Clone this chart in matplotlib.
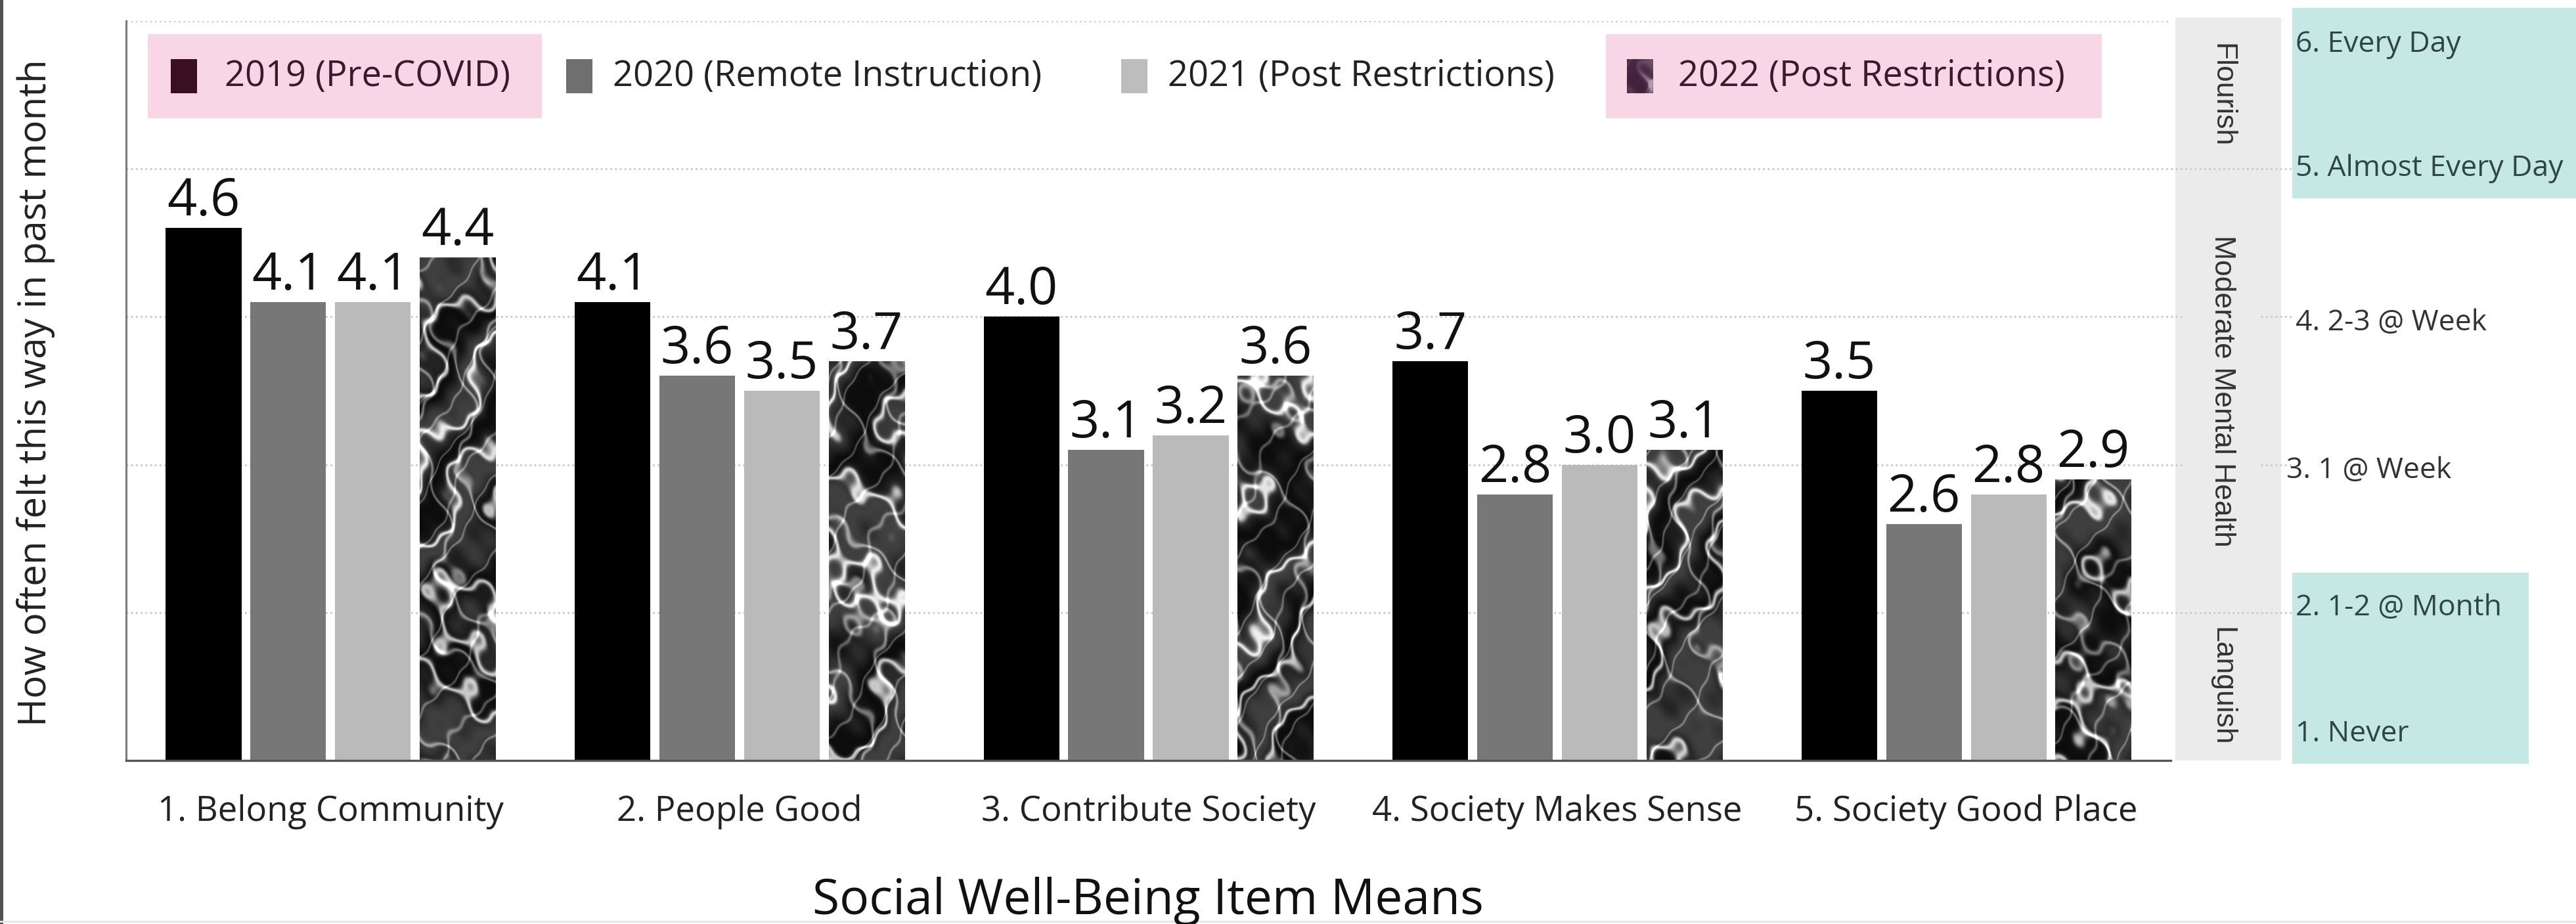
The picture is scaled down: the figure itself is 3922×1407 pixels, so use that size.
import numpy as np
import matplotlib
matplotlib.use("Agg")
import matplotlib.pyplot as plt
from matplotlib.patches import Rectangle
from matplotlib.colors import LinearSegmentedColormap

plt.rcParams["font.family"] = ["Open Sans", "DejaVu Sans"]

# ---- data -------------------------------------------------------------
items = [
    "1. Belong Community",
    "2. People Good",
    "3. Contribute Society",
    "4. Society Makes Sense",
    "5. Society Good Place",
]
years = [
    "2019 (Pre-COVID)",
    "2020 (Remote Instruction)",
    "2021 (Post Restrictions)",
    "2022 (Post Restrictions)",
]
means_2019 = [4.6, 4.1, 4.0, 3.7, 3.5]
means_2020 = [4.1, 3.6, 3.1, 2.8, 2.6]
means_2021 = [4.1, 3.5, 3.2, 3.0, 2.8]
means_2022 = [4.4, 3.7, 3.6, 3.1, 2.9]

scale_levels = [1, 2, 3, 4, 5, 6]
scale_labels = [
    "1. Never",
    "2. 1-2 @ Month",
    "3. 1 @ Week",
    "4. 2-3 @ Week",
    "5. Almost Every Day",
    "6. Every Day",
]
zone_names = ["Languish", "Moderate Mental Health", "Flourish"]
zone_bounds = [1, 2, 5, 6]

# ---- style ------------------------------------------------------------
W, H = 3922, 1407
BAR_COLORS = ["#000000", "#777777", "#bababa", None]
GRID = dict(color="#c9c9c9", linewidth=2.0, linestyle=(0, (1, 1.6)))
PINK = "#f9d6e6"
TEAL = "#c5e8e5"
BAND = "#ebebeb"


def fx(px):
    return px / W


def fy(py):
    return 1 - py / H


def marble(rows, cols, shift):
    # procedural marble look for the 2022 bars (texture only, not data)
    yy, xx = np.mgrid[0:rows, 0:cols].astype(float)
    u, v = xx / 75.0, yy / 75.0
    warp = (np.sin(1.1 * u + 0.6 * v + shift)
            + 0.55 * np.sin(2.3 * v - 1.7 * u + 2.1 * shift)
            + 0.3 * np.sin(4.7 * u + 3.9 * v + 0.7 * shift)
            + 0.15 * np.sin(9.3 * u - 8.1 * v + 1.3 * shift))
    vein_a = np.exp(-22 * np.sin(1.4 * u + 1.1 * v + 1.6 * warp) ** 2)
    vein_b = np.exp(-40 * np.sin(2.6 * u - 1.2 * v + 1.3 * warp + 1.0) ** 2)
    vein_c = np.exp(-70 * np.sin(4.1 * u + 2.7 * v + 0.9 * warp + 2.0) ** 2)
    mottle = 0.5 + 0.5 * np.sin(2.2 * u + 1.7 * v + 2.0 * warp)
    tex = 0.05 + 0.2 * mottle + 0.7 * vein_a + 0.4 * vein_b + 0.3 * vein_c
    return np.clip(tex, 0, 1)


fig = plt.figure(figsize=(W / 100, H / 100), dpi=100)
ax = fig.add_axes([fx(192), fy(1158), fx(3305) - fx(192), fy(32) - fy(1158)])
side = fig.add_axes([fx(3305), fy(1158), 1 - fx(3305), fy(32) - fy(1158)], sharey=ax)

x = np.arange(len(items))
width = 0.185
step = 0.207
series = [means_2019, means_2020, means_2021, means_2022]

for i, vals in enumerate(series):
    pos = x + (i - 1.5) * step
    color = BAR_COLORS[i] if BAR_COLORS[i] else "#333333"
    bars = ax.bar(pos, vals, width=width, color=color, zorder=3)
    if BAR_COLORS[i] is None:
        for j, patch in enumerate(bars.patches):
            tex = marble(1130, 120, shift=1.7 * j + 0.4)
            im = ax.imshow(tex, cmap="gray", vmin=0, vmax=1, aspect="auto",
                           extent=(pos[j] - width / 2, pos[j] + width / 2, 1, 6),
                           zorder=4, interpolation="bilinear")
            im.set_clip_path(patch)
    for xp, v in zip(pos, vals):
        ax.annotate(f"{v:.1f}", (xp, v), xytext=(0, 0), textcoords="offset points",
                    ha="center", va="bottom", fontsize=57, color="#111111", zorder=5)

ax.set_xlim(-0.5, len(items) - 0.5)
ax.set_ylim(1, 6)
ax.set_yticks([])
for lvl in scale_levels[1:]:
    ax.axhline(lvl, zorder=1, **GRID)
ax.set_xticks(x)
ax.set_xticklabels(items, fontsize=38, color="#222222")
ax.tick_params(axis="x", length=0, pad=37)
for s in ["top", "right"]:
    ax.spines[s].set_visible(False)
ax.spines["left"].set_color("#7a7a7a")
ax.spines["left"].set_linewidth(2.2)
ax.spines["bottom"].set_color("#555555")
ax.spines["bottom"].set_linewidth(2.4)
ax.spines["bottom"].set_zorder(6)

# ---- right side: zones band and frequency labels ----------------------
side.set_xlim(0, W - 3305)
side.axis("off")
side.add_patch(Rectangle((7, zone_bounds[0]), 161, zone_bounds[-1] + 0.02 - zone_bounds[0],
                         facecolor=BAND, edgecolor="none", zorder=0, clip_on=False))
side.add_patch(Rectangle((185, 4.8), W - 3305 - 185, 1.29, facecolor=TEAL,
                         edgecolor="none", zorder=0, clip_on=False))
side.add_patch(Rectangle((185, 0.98), 360, 1.29, facecolor=TEAL,
                         edgecolor="none", zorder=0, clip_on=False))
for lvl in scale_levels[1:5]:
    side.hlines(lvl, 0, 185, zorder=1, **GRID)
for k, name in enumerate(zone_names):
    mid = (zone_bounds[k] + zone_bounds[k + 1]) / 2
    box = dict(boxstyle="square,pad=0.8", facecolor=BAND, edgecolor="none") if k == 1 else None
    side.text(78, mid, name, rotation=-90, ha="center", va="center", fontsize=32,
              color="#333333", family=["Liberation Sans", "DejaVu Sans"], bbox=box, zorder=2)

label_y = [1.18, 2.03, 2.96, 3.96, 5.0, 5.84]
label_x = [190, 190, 176, 190, 190, 190]
for lvl, lab, ly, lx in zip(scale_levels, scale_labels, label_y, label_x):
    teal = lvl in (1, 2, 5, 6)
    side.text(lx, ly, lab, ha="left", va="center", fontsize=32,
              color="#2e4646" if teal else "#333333", zorder=3)

# ---- legend -----------------------------------------------------------
leg_handle_x = [260, 862, 1707, 2477]
leg_text_x = [342, 933, 1778, 2555]
handle_colors = ["#3a1020", "#6f6f6f", "#bdbdbd", None]
fig.add_artist(Rectangle((fx(225), fy(180)), fx(825) - fx(225), fy(52) - fy(180),
                         transform=fig.transFigure, facecolor=PINK, edgecolor="none", zorder=1))
fig.add_artist(Rectangle((fx(2445), fy(180)), fx(3200) - fx(2445), fy(52) - fy(180),
                         transform=fig.transFigure, facecolor=PINK, edgecolor="none", zorder=1))
purple = LinearSegmentedColormap.from_list("purple_marble", ["#3a1a36", "#5c3d58", "#b29bb0"])
for k, label in enumerate(years):
    hx = leg_handle_x[k]
    if handle_colors[k]:
        fig.add_artist(Rectangle((fx(hx), fy(142)), 40 / W, 52 / H, transform=fig.transFigure,
                                 facecolor=handle_colors[k], edgecolor="none", zorder=2))
    else:
        hax = fig.add_axes([fx(hx), fy(142), 40 / W, 52 / H], zorder=3)
        hax.imshow(marble(52, 40, 0.3)[:, :] * 1.0, cmap=purple, vmin=0, vmax=1,
                   aspect="auto", extent=(0, 1, 0, 1))
        hax.axis("off")
    fig.text(fx(leg_text_x[k]), fy(116), label, fontsize=39, ha="left", va="center",
             color="#3b1a2c" if k in (0, 3) else "#222222", zorder=3)

# ---- titles and frame -------------------------------------------------
fig.text(fx(1748), fy(1372), "Social Well-Being Item Means", fontsize=54,
         ha="center", va="center", color="#111111")
fig.text(fx(55), fy(598), "How often felt this way in past month", fontsize=42,
         rotation=90, ha="center", va="center", color="#222222")
fig.add_artist(plt.Line2D([fx(2), fx(2)], [0, 1], transform=fig.transFigure,
                          color="#4d4d4d", linewidth=3.5))
fig.add_artist(plt.Line2D([0, 1], [fy(1403), fy(1403)], transform=fig.transFigure,
                          color="#e6e6e6", linewidth=2))

fig.savefig("out.png", dpi=100)
